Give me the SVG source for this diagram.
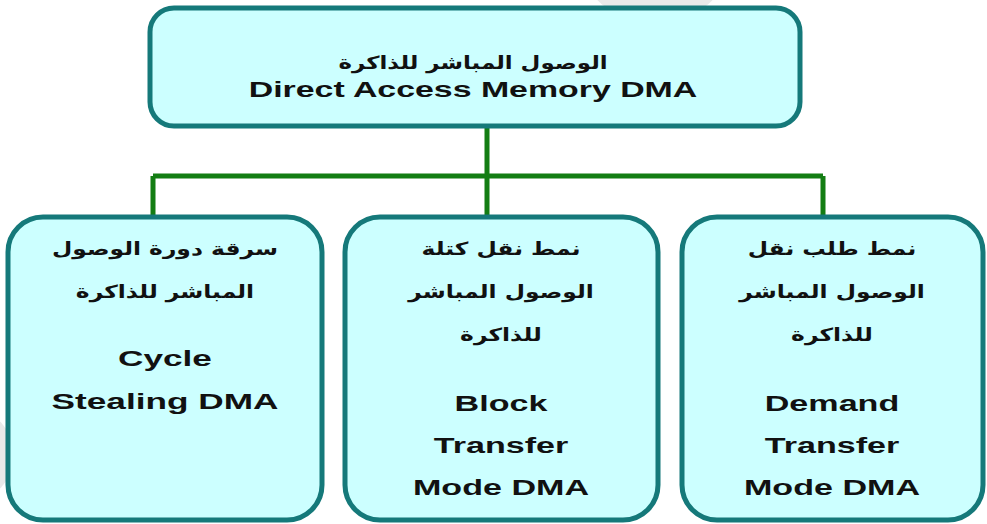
<svg xmlns="http://www.w3.org/2000/svg" width="987" height="524" viewBox="0 0 987 524">
<style>
.box{fill:#ccffff;stroke:#15797a;stroke-width:5}
.con{fill:none;stroke:#137d13;stroke-width:5}
.en{font-family:"Liberation Sans",Arial,sans-serif;font-weight:bold;font-size:22px;fill:#111;text-anchor:middle}
.ar{font-family:"DejaVu Sans",sans-serif;font-weight:bold;font-size:18px;fill:#111;text-anchor:middle}
.wm{fill:#e9e9e9}
</style>
<rect width="987" height="524" fill="#ffffff"/>
<ellipse class="wm" cx="655" cy="-25" rx="68" ry="47"/>
<ellipse class="wm" cx="-28" cy="455" rx="42" ry="45"/>
<g id="connectors">
<path class="con" d="M487,126 V176 M153,176 H823 M153,176 V217 M487,176 V217 M823,176 V217"/>
</g>
<g id="root">
<rect class="box" x="150" y="8" width="650" height="118" rx="24"/>
<text class="ar" transform="translate(473,0) scale(1.27,1)" x="0" y="69" direction="rtl">الوصول المباشر للذاكرة</text>
<text class="en" transform="translate(473,0) scale(1.54,1)" x="0" y="97">Direct Access Memory DMA</text>
</g>
<g id="cycle">
<rect class="box" x="8" y="217" width="314" height="303" rx="35"/>
<g transform="translate(165,0) scale(1.3,1)">
<text class="ar" x="0" y="255" direction="rtl">سرقة دورة الوصول</text>
<text class="ar" x="0" y="298" direction="rtl">المباشر للذاكرة</text>
</g>
<g transform="translate(165,0) scale(1.6,1)">
<text class="en" x="0" y="366">Cycle</text>
<text class="en" x="0" y="409">Stealing DMA</text>
</g>
</g>
<g id="block">
<rect class="box" x="345" y="217" width="313" height="303" rx="35"/>
<g transform="translate(501,0) scale(1.3,1)">
<text class="ar" x="0" y="255" direction="rtl">نمط نقل كتلة</text>
<text class="ar" x="0" y="298" direction="rtl">الوصول المباشر</text>
<text class="ar" x="0" y="341" direction="rtl">للذاكرة</text>
</g>
<g transform="translate(501,0) scale(1.55,1)">
<text class="en" x="0" y="411">Block</text>
<text class="en" x="0" y="453">Transfer</text>
<text class="en" x="0" y="495">Mode DMA</text>
</g>
</g>
<g id="demand">
<rect class="box" x="682" y="217" width="301" height="303" rx="35"/>
<g transform="translate(832,0) scale(1.3,1)">
<text class="ar" x="0" y="255" direction="rtl">نمط طلب نقل</text>
<text class="ar" x="0" y="298" direction="rtl">الوصول المباشر</text>
<text class="ar" x="0" y="341" direction="rtl">للذاكرة</text>
</g>
<g transform="translate(832,0) scale(1.55,1)">
<text class="en" x="0" y="411">Demand</text>
<text class="en" x="0" y="453">Transfer</text>
<text class="en" x="0" y="495">Mode DMA</text>
</g>
</g>
</svg>
